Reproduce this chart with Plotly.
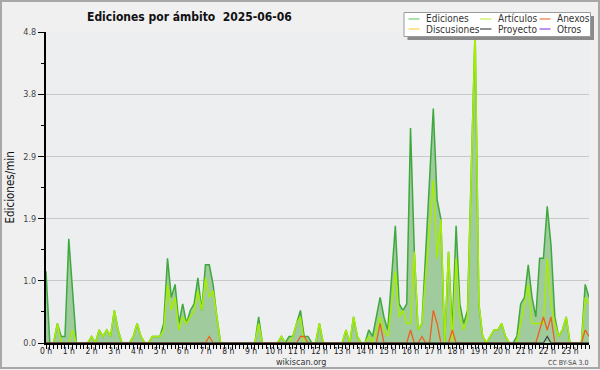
import plotly.graph_objects as go

# ---------------- data (edits per minute, 10-minute bins) ----------------
hour_labels = [f"{h} h" for h in range(24)]
y_tick_labels = ["0.0", "1.0", "1.9", "2.9", "3.8", "4.8"]
y_max = 4.775

ediciones = [
    1.1, 0, 0, 0.3, 0.1, 0.1,
    1.6, 0.8, 0, 0, 0, 0,
    0.1, 0, 0.2, 0.1, 0.2, 0.1,
    0.5, 0.2, 0, 0, 0, 0.1,
    0.3, 0.1, 0, 0, 0.1, 0.1,
    0.1, 0.3, 1.3, 0.7, 0.9, 0.3,
    0.6, 0.3, 0.5, 0.6, 1.0, 0.5,
    1.2, 1.2, 0.9, 0.4, 0, 0,
    0, 0, 0, 0, 0, 0,
    0, 0, 0.4, 0, 0, 0,
    0, 0, 0.1, 0, 0.1, 0.1,
    0.3, 0.5, 0.1, 0.1, 0, 0,
    0.3, 0, 0, 0, 0, 0,
    0, 0.2, 0, 0.4, 0.1, 0,
    0, 0.2, 0.1, 0.4, 0.7, 0.4,
    0.2, 1.0, 1.8, 0.6, 0.5, 0.6,
    3.3, 1.4, 0.2, 0.3, 1.4, 2.5,
    3.6, 2.2, 1.9, 0, 1.4, 0.2,
    1.8, 0.6, 0.3, 0.5, 2.6, 4.8,
    0.6, 0.1, 0, 0.1, 0.2, 0.2,
    0.3, 0.1, 0, 0, 0.1, 0.6,
    0.7, 1.2, 0.7, 0.4, 1.3, 1.3,
    2.1, 1.5, 0.4, 0.1, 0.2, 0.4,
    0, 0, 0, 0, 0.9, 0.7,
]

articulos = [
    0, 0, 0, 0.3, 0, 0,
    0, 0.2, 0, 0, 0, 0,
    0.1, 0, 0.2, 0.1, 0.2, 0.1,
    0.5, 0.2, 0, 0, 0, 0.1,
    0.3, 0.1, 0, 0, 0.1, 0.1,
    0.1, 0.2, 0.9, 0.5, 0.7, 0.2,
    0.4, 0.3, 0.4, 0.5, 0.8, 0.5,
    1.0, 0.7, 0.8, 0.4, 0, 0,
    0, 0, 0, 0, 0, 0,
    0, 0, 0.3, 0, 0, 0,
    0, 0, 0.1, 0, 0, 0.1,
    0.3, 0.4, 0, 0, 0, 0,
    0.3, 0, 0, 0, 0, 0,
    0, 0.2, 0, 0.4, 0.1, 0,
    0, 0.1, 0, 0.2, 0.4, 0.2,
    0.1, 0.6, 1.1, 0.4, 0.5, 0.3,
    0.3, 1.4, 0.2, 0.3, 1.0, 1.8,
    2.5, 1.3, 1.9, 0, 1.4, 0,
    1.3, 0.4, 0.2, 0.4, 2.6, 4.8,
    0.6, 0.1, 0, 0.1, 0.2, 0.2,
    0.3, 0.1, 0, 0, 0, 0.3,
    0.6, 0.9, 0.3, 0.3, 0.3, 0.3,
    1.3, 0.6, 0.3, 0.1, 0.2, 0.4,
    0, 0, 0, 0, 0.7, 0.6,
]

anexos = [
    0, 0, 0, 0, 0, 0,
    0, 0, 0, 0, 0, 0,
    0, 0, 0, 0, 0, 0,
    0, 0, 0, 0, 0, 0,
    0, 0, 0, 0, 0, 0,
    0, 0, 0, 0, 0, 0,
    0, 0, 0, 0, 0, 0,
    0, 0.1, 0, 0, 0, 0,
    0, 0, 0, 0, 0, 0,
    0, 0, 0, 0, 0, 0,
    0, 0, 0, 0, 0, 0,
    0, 0.1, 0.1, 0, 0, 0,
    0, 0, 0, 0, 0, 0,
    0, 0, 0, 0, 0, 0,
    0, 0, 0, 0, 0.3, 0,
    0, 0, 0, 0, 0, 0,
    0.2, 0, 0, 0.1, 0, 0,
    0.5, 0.3, 0, 0, 0, 0.2,
    0, 0, 0, 0, 0, 0,
    0, 0, 0, 0, 0, 0,
    0, 0, 0, 0, 0, 0,
    0, 0, 0, 0, 0.2, 0.4,
    0.2, 0.4, 0, 0, 0, 0,
    0, 0, 0, 0, 0.2, 0.1,
]

proyecto = [
    0, 0, 0, 0, 0, 0,  0, 0, 0, 0, 0, 0,  0, 0, 0, 0, 0, 0,  0, 0, 0, 0, 0, 0,
    0, 0, 0, 0, 0, 0,  0, 0, 0, 0, 0, 0,  0, 0, 0, 0, 0, 0,  0, 0, 0, 0, 0, 0,
    0, 0, 0, 0, 0, 0,  0, 0, 0, 0, 0, 0,  0, 0, 0, 0, 0, 0,  0, 0, 0, 0, 0, 0,
    0, 0, 0, 0, 0, 0,  0, 0, 0, 0, 0, 0,  0, 0, 0, 0, 0, 0,  0, 0, 0, 0, 0, 0,
    0, 0, 0, 0, 0, 0,  0, 0, 0, 0, 0, 0,  0, 0, 0, 0, 0, 0,  0, 0, 0, 0, 0, 0,
    0, 0, 0, 0, 0, 0,  0, 0, 0, 0, 0, 0,
    0.1, 0, 0, 0, 0, 0,
    0, 0, 0, 0, 0, 0,
]

legend_rows = [["Ediciones", "Artículos", "Anexos"],
               ["Discusiones", "Proyecto", "Otros"]]
legend_colors = [["#7fcf7f", "#c8ee60", "#f08050"],
                 ["#ffd455", "#555555", "#9a55ee"]]

# ---------------- layout geometry ----------------
W, H = 600, 370
L, R, T, B = 46, 11, 32, 27
PW, PH = W - L - R, H - T - B

def pxx(x):
    return (x - L) / PW

def pxy(y):
    return (H - B - y) / PH

FONT = "DejaVu Sans Condensed, DejaVu Sans, sans-serif"
times = [i / 6 for i in range(len(ediciones))]

fig = go.Figure()
fig.add_trace(go.Scatter(
    x=times, y=ediciones, mode="lines", name="Ediciones",
    line=dict(color="#3fa83f", width=1.5), fill="tozeroy",
    fillcolor="#a0cb9c", hoverinfo="skip"))
fig.add_trace(go.Scatter(
    x=times, y=articulos, mode="lines", name="Artículos",
    line=dict(color="#a6ee00", width=1.5), hoverinfo="skip"))
fig.add_trace(go.Scatter(
    x=times, y=anexos, mode="lines", name="Anexos",
    line=dict(color="#ee6020", width=1.3), hoverinfo="skip"))
fig.add_trace(go.Scatter(
    x=times, y=proyecto, mode="lines", name="Proyecto",
    line=dict(color="#444444", width=1.3), hoverinfo="skip"))

yticks = [y_max * k / 5 for k in range(6)]
fig.update_layout(
    width=W, height=H,
    margin=dict(l=L, r=R, t=T, b=B, pad=0),
    paper_bgcolor="#f0f0f1", plot_bgcolor="#edeef0",
    showlegend=False,
    font=dict(family=FONT, size=9, color="#333333"),
    xaxis=dict(
        range=[0, times[-1]], tickmode="array",
        tickvals=list(range(24)), ticktext=hour_labels,
        ticks="outside", ticklen=4, tickcolor="#000", tickwidth=1,
        ticklabelstandoff=-5,
        showline=True, linecolor="#000", linewidth=2,
        showgrid=False, zeroline=False,
        tickfont=dict(size=8.5, color="#222"),
        minor=dict(dtick=1 / 6, tick0=0, ticks="outside", ticklen=4,
                   tickcolor="#000", tickwidth=1, showgrid=False),
    ),
    yaxis=dict(
        range=[0, y_max], tickmode="array",
        tickvals=yticks, ticktext=y_tick_labels,
        ticks="outside", ticklen=6, tickcolor="#000", tickwidth=1,
        showline=True, linecolor="#000", linewidth=2,
        showgrid=True, gridcolor="#c9c9c9", gridwidth=1,
        zeroline=False,
        tickfont=dict(size=9, color="#444"),
        minor=dict(dtick=y_max / 10, tick0=0, ticks="outside", ticklen=3,
                   tickcolor="#000", tickwidth=1, showgrid=False),
    ),
)

shapes = []
annotations = []
# outer frame
shapes.append(dict(type="rect", xref="paper", yref="paper",
                   x0=pxx(1), x1=pxx(599), y0=pxy(1), y1=pxy(368),
                   line=dict(color="#a8a8a8", width=2), fillcolor="rgba(0,0,0,0)",
                   layer="above"))
# legend shadow + box
shapes.append(dict(type="rect", xref="paper", yref="paper",
                   x0=pxx(407.5), x1=pxx(594), y0=pxy(16), y1=pxy(40),
                   line=dict(width=0), fillcolor="#8a8a8a", layer="above"))
shapes.append(dict(type="rect", xref="paper", yref="paper",
                   x0=pxx(404), x1=pxx(590.5), y0=pxy(12.5), y1=pxy(36.5),
                   line=dict(color="#9a9a9a", width=1), fillcolor="#ffffff",
                   layer="above"))
col_line_x = [(408.5, 419.5), (480, 491.5), (539.5, 550.5)]
col_text_x = [424, 496, 555]
row_y = [19, 29]
for r, row in enumerate(legend_rows):
    for c, label in enumerate(row):
        shapes.append(dict(type="line", xref="paper", yref="paper",
                           x0=pxx(col_line_x[c][0]), x1=pxx(col_line_x[c][1]),
                           y0=pxy(row_y[r]), y1=pxy(row_y[r]),
                           line=dict(color=legend_colors[r][c], width=1.3),
                           layer="above"))
        annotations.append(dict(xref="paper", yref="paper",
                                x=pxx(col_text_x[c]), y=pxy(row_y[r]),
                                text=label, showarrow=False,
                                xanchor="left", yanchor="middle",
                                font=dict(size=10, color="#333", family=FONT)))

# title
annotations.append(dict(xref="paper", yref="paper", x=pxx(85), y=pxy(17),
                        text="<b>Ediciones por ámbito  2025-06-06</b>",
                        showarrow=False, xanchor="left", yanchor="middle",
                        font=dict(size=12, color="#111", family=FONT)))
# y axis title
annotations.append(dict(xref="paper", yref="paper", x=pxx(9), y=pxy(187.5),
                        text="Ediciones/min", textangle=-90, showarrow=False,
                        xanchor="center", yanchor="middle",
                        font=dict(size=11.5, color="#111", family=FONT)))
# footer
annotations.append(dict(xref="paper", yref="paper", x=pxx(300.5), y=pxy(361.5),
                        text="wikiscan.org", showarrow=False,
                        xanchor="center", yanchor="middle",
                        font=dict(size=9, color="#333", family=FONT)))
annotations.append(dict(xref="paper", yref="paper", x=pxx(589.5), y=pxy(362.5),
                        text="CC BY-SA 3.0", showarrow=False,
                        xanchor="right", yanchor="middle",
                        font=dict(size=7, color="#444", family=FONT)))

fig.update_layout(shapes=shapes, annotations=annotations)
fig.write_html("out.html", config={"displayModeBar": False},
               post_script="document.body.style.margin='0';document.body.style.padding='0';")
